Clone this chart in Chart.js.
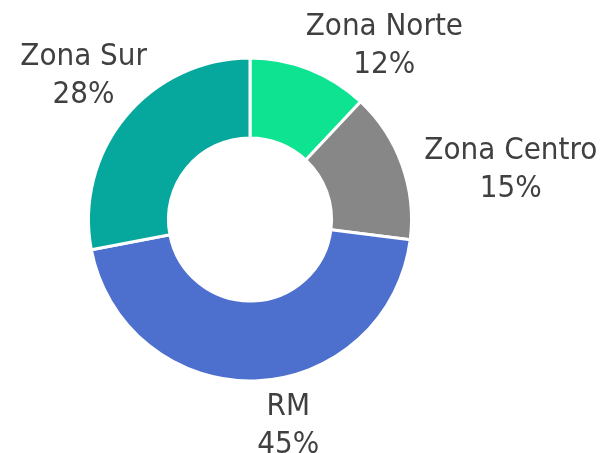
<!DOCTYPE html>
<html>
<head>
<meta charset="utf-8">
<script src="https://cdn.jsdelivr.net/npm/chart.js@4"></script>
<style>
  body { margin: 0; background: #fff; }
  #wrap { width: 600px; height: 453px; position: relative; }
</style>
</head>
<body>
<div id="wrap"><canvas id="donut"></canvas></div>
<script>
const zonas = ["Zona Norte", "Zona Centro", "RM", "Zona Sur"];
const porcentajes = [12, 15, 45, 28];
const colores = ["#0EE391", "#878787", "#4D70CE", "#06A89E"];
// small nudges so labels sit where the original put them
const labelShift = [[43, 12], [20, 18], [32, 7], [13, -16]];

// draws "name / NN%" outside each slice
const outsideLabels = {
  id: "outsideLabels",
  afterDatasetsDraw(chart) {
    const ctx = chart.ctx;
    const meta = chart.getDatasetMeta(0);
    ctx.save();
    ctx.font = "31px 'DejaVu Sans Condensed', 'DejaVu Sans'";
    ctx.fillStyle = "#404040";
    ctx.textAlign = "center";
    ctx.textBaseline = "middle";
    meta.data.forEach((arc, i) => {
      const { x, y, startAngle, endAngle, outerRadius } = arc.getProps(
        ["x", "y", "startAngle", "endAngle", "outerRadius"], true);
      const mid = (startAngle + endAngle) / 2;
      const dx = Math.cos(mid), dy = Math.sin(mid);
      const line1 = chart.data.labels[i];
      const line2 = chart.data.datasets[0].data[i] + "%";
      const w = Math.max(ctx.measureText(line1).width, ctx.measureText(line2).width);
      const h = 60;
      const r = outerRadius + 8;
      const cx = x + dx * r + dx * w / 2 + labelShift[i][0];
      const cy = y + dy * r + dy * h / 2 + labelShift[i][1];
      ctx.fillText(line1, cx, cy - 19);
      ctx.fillText(line2, cx, cy + 19);
    });
    ctx.restore();
  }
};

new Chart(document.getElementById("donut"), {
  type: "doughnut",
  data: {
    labels: zonas,
    datasets: [{
      data: porcentajes,
      backgroundColor: colores,
      borderColor: "#ffffff",
      borderWidth: 3,
      radius: 161.5,
      cutout: "50.5%"
    }]
  },
  options: {
    responsive: true,
    maintainAspectRatio: false,
    animation: false,
    layout: { padding: { left: 90, right: 190, top: 59, bottom: 73 } },
    plugins: {
      legend: { display: false },
      tooltip: { enabled: false }
    }
  },
  plugins: [outsideLabels]
});
</script>
</body>
</html>
